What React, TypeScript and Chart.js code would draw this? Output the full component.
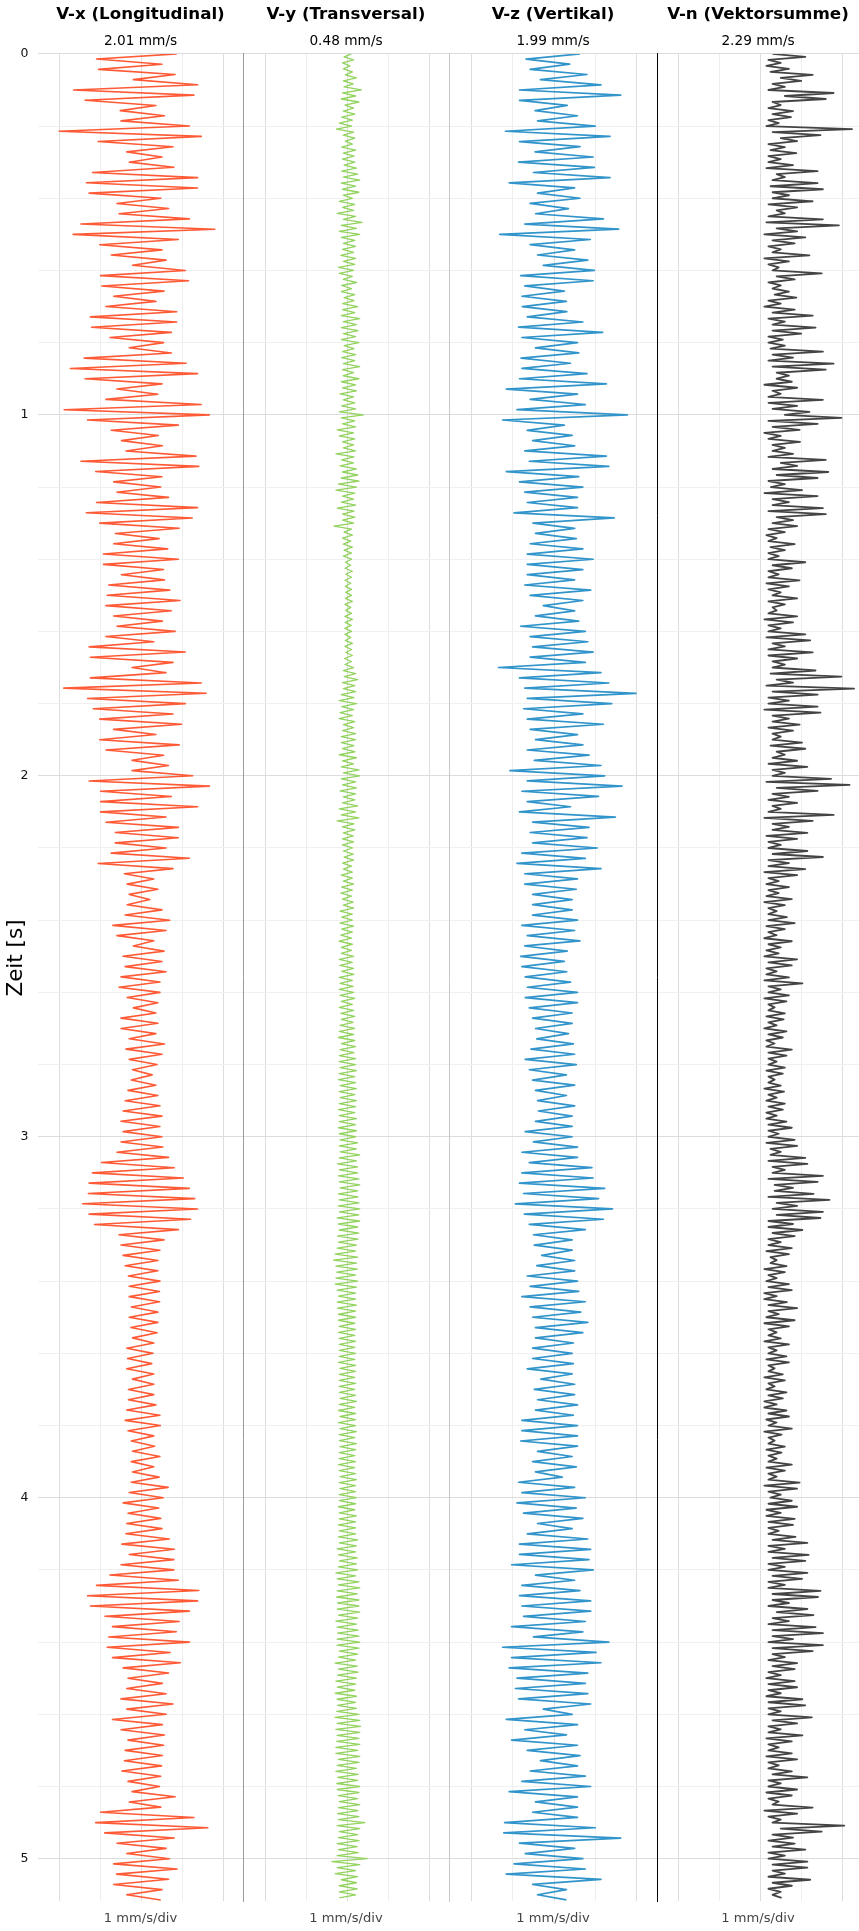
import { useEffect, useRef } from "react";
import { Chart, registerables } from "chart.js";

Chart.register(...registerables);

const FONT = "'DejaVu Sans', 'Noto Sans', sans-serif";

// ---- data ----
const TIME_MAX = 5.118; // seconds shown on the time axis
const TIME_STEP = 0.2; // grid step of the time axis
const Y_AXIS_LABEL = "Zeit [s]";
const SCALE_LABEL = "1 mm/s/div";
const TITLES = ["V-x (Longitudinal)", "V-y (Transversal)", "V-z (Vertikal)", "V-n (Vektorsumme)"];
const PEAKS = ["2.01 mm/s", "0.48 mm/s", "1.99 mm/s", "2.29 mm/s"];
const RATES = [70, 120, 70, 120]; // samples per second of each trace

const VX = [
  .86,-1.1,.5,-1.05,.82,-.2,1.37,
  -1.66,1.28,-1.38,.35,-.52,.56,-.5,
  1.17,-2.01,1.46,-1.06,.77,-.36,.5,
  -.3,.79,-1.2,1.37,-1.35,1.37,-1.28,
  .47,-.6,.66,-.55,1.17,-1.48,1.79,
  -1.67,.9,-1.02,.5,-.74,.6,-.22,
  1.07,-1,1.15,-.97,.55,-.68,.35,
  -.87,.86,-1.25,.86,-1.22,.73,-.77,
  .54,-.3,.73,-1.4,1.09,-1.74,1.37,
  -1.38,.5,-.6,.4,-.87,1.46,-1.89,
  1.66,-1.32,.9,-.74,.41,-.49,.51,
  -.38,1.33,-1.48,1.4,-1.12,.5,-.68,
  .47,-.6,.66,-1.1,1.37,-1.35,1.24,
  -1.02,.92,-.64,.43,-.68,.64,-.93,
  .9,-.93,.54,-.49,.56,-.8,.69,
  -.84,.94,-.87,.73,-.68,.51,-.6,
  .82,-.87,.3,-1.28,1.07,-1.25,.77,
  -.23,.6,-1.25,1.46,-1.9,1.58,-1.32,
  1.07,-1.18,.77,-1.02,.98,-.68,.35,
  -1.02,.92,-.87,.54,-.23,.66,-.23,
  1.25,-1.28,1.66,-1,.73,-1,1.37,
  -1,.6,-.87,.9,-.64,.9,-.64,
  .6,-.74,1.17,-1.06,.77,-.42,.3,
  -.35,.4,-.3,.2,-.35,.5,-.4,
  .69,-.7,.6,-.6,.3,-.2,.55,
  -.45,.5,-.4,.6,-.5,.45,-.55,
  .45,-.35,.4,-.2,.35,-.5,.4,
  -.5,.35,-.3,.56,-.38,.5,-.3,
  .38,-.22,.26,-.25,.35,-.33,.4,
  -.4,.45,-.45,.5,-.5,.45,-.45,
  .5,-.5,.52,-.6,.66,-.98,.8,
  -1.2,1.02,-1.28,1.17,-1.3,1.3,-1.44,
  1.37,-1.28,1.2,-1.15,.9,-.55,.55,
  -.5,.45,-.45,.4,-.4,.4,-.32,
  .45,-.3,.44,-.3,.44,-.25,.4,
  -.3,.4,-.26,.38,-.22,.3,-.36,
  .28,-.34,.25,-.36,.3,-.22,.3,
  -.32,.3,-.32,.35,-.36,.45,-.4,
  .46,-.33,.3,-.25,.32,-.22,.45,
  -.25,.3,-.22,.43,-.25,.65,-.3,
  .53,-.45,.42,-.33,.47,-.36,.5,
  -.38,.68,-.48,.8,-.3,.79,-.5,
  .79,-.77,.9,-1.1,1.4,-1.32,1.37,
  -1.25,1.17,-.89,.92,-.71,.85,-.8,
  1.17,-.84,.7,-.71,.95,-.45,.66,
  -.33,.51,-.36,.6,-.5,.77,-.36,
  .6,-.71,.51,-.5,.56,-.33,.54,
  -.4,.51,-.42,.49,-.48,.47,-.33,
  .44,-.23,.82,-.3,.47,-1,1.28,
  -1.12,1.62,-.9,.8,-.6,.6,-.36,
  .68,-.68,.87,-.61,.66,-.68,.5,
  -.36,.47,
];

const VY = [
  .1,-.08,.15,-.12,.06,-.1,.12,-.05,.22,-.1,.14,-.08,
  .34,-.12,.2,-.15,.28,-.06,.15,-.1,.18,-.14,.12,-.2,
  .1,-.27,.15,-.1,.18,-.05,.12,-.14,.2,-.1,.16,-.12,
  .18,-.08,.22,-.14,.25,-.1,.3,-.15,.2,-.12,.28,-.1,
  .12,-.2,.18,-.12,.15,-.25,.2,-.1,.36,-.15,.22,-.2,
  .3,-.15,.18,-.1,.2,-.12,.15,-.16,.2,-.1,.18,-.22,
  .15,-.2,.12,-.1,.22,-.14,.1,-.15,.18,-.08,.16,-.12,
  .25,-.12,.18,-.15,.3,-.1,.22,-.15,.26,-.1,.2,-.15,
  .28,-.08,.16,-.12,.2,-.14,.18,-.1,.3,-.12,.15,-.1,
  .28,-.15,.2,-.12,.22,-.18,.15,-.1,.18,-.14,.2,-.2,
  .39,-.15,.18,-.12,.2,-.25,.15,-.2,.18,-.12,.15,-.1,
  .2,-.28,.16,-.14,.15,-.18,.22,-.12,.25,-.15,.28,-.22,
  .22,-.28,.18,-.12,.15,-.15,.2,-.25,.16,-.12,.18,-.12,
  .15,-.33,.1,-.08,.12,-.12,.08,-.1,.12,-.08,.1,-.1,
  .1,-.05,.08,-.06,.12,-.04,.1,-.06,.08,-.05,.1,-.04,
  .1,-.05,.12,-.06,.08,-.04,.1,-.06,.12,-.05,.09,-.06,
  .1,-.06,.08,-.05,.12,-.06,.1,-.04,.12,-.07,.1,-.06,
  .15,-.1,.2,-.08,.25,-.12,.18,-.1,.2,-.15,.16,-.2,
  .22,-.14,.15,-.18,.12,-.2,.18,-.1,.15,-.12,.2,-.15,
  .2,-.15,.16,-.12,.18,-.2,.22,-.12,.15,-.15,.28,-.1,
  .3,-.15,.2,-.12,.22,-.18,.2,-.1,.18,-.12,.25,-.2,
  .2,-.15,.28,-.25,.16,-.12,.18,-.1,.14,-.12,.15,-.12,
  .12,-.1,.14,-.08,.15,-.12,.1,-.1,.12,-.15,.12,-.1,
  .15,-.14,.12,-.16,.1,-.12,.14,-.1,.15,-.18,.12,-.14,
  .12,-.18,.15,-.14,.12,-.16,.1,-.2,.12,-.15,.1,-.15,
  .15,-.2,.12,-.18,.15,-.14,.16,-.2,.12,-.18,.14,-.2,
  .15,-.18,.18,-.15,.12,-.2,.15,-.16,.18,-.15,.14,-.18,
  .18,-.2,.15,-.22,.18,-.15,.2,-.18,.16,-.2,.2,-.2,
  .2,-.18,.22,-.2,.18,-.22,.2,-.18,.22,-.2,.18,-.18,
  .22,-.2,.2,-.22,.18,-.2,.22,-.2,.2,-.22,.22,-.2,
  .2,-.18,.25,-.2,.22,-.18,.3,-.2,.22,-.24,.25,-.2,
  .25,-.22,.28,-.2,.3,-.18,.25,-.22,.26,-.2,.28,-.22,
  .3,-.2,.28,-.25,.3,-.22,.25,-.2,.28,-.24,.26,-.22,
  .22,-.25,.2,-.3,.25,-.34,.22,-.28,.24,-.26,.2,-.28,
  .25,-.3,.22,-.25,.2,-.22,.2,-.25,.22,-.24,.2,-.22,
  .2,-.22,.18,-.2,.2,-.22,.18,-.2,.2,-.2,.18,-.2,
  .2,-.2,.18,-.22,.2,-.18,.2,-.2,.18,-.2,.2,-.2,
  .18,-.2,.2,-.18,.22,-.2,.18,-.22,.2,-.18,.2,-.22,
  .2,-.18,.22,-.2,.18,-.2,.22,-.18,.2,-.2,.18,-.2,
  .2,-.22,.18,-.2,.2,-.18,.22,-.2,.2,-.18,.2,-.2,
  .22,-.2,.2,-.22,.18,-.2,.22,-.2,.2,-.22,.2,-.2,
  .2,-.22,.25,-.2,.22,-.25,.2,-.22,.24,-.2,.22,-.22,
  .25,-.28,.2,-.25,.28,-.22,.3,-.25,.24,-.26,.28,-.24,
  .28,-.25,.3,-.22,.25,-.28,.22,-.25,.26,-.24,.28,-.25,
  .3,-.25,.28,-.2,.25,-.22,.2,-.3,.24,-.22,.26,-.24,
  .22,-.28,.2,-.25,.18,-.3,.22,-.25,.2,-.24,.22,-.26,
  .28,-.3,.3,-.25,.32,-.28,.3,-.25,.28,-.26,.3,-.28,
  .25,-.28,.3,-.22,.28,-.25,.22,-.28,.26,-.24,.25,-.26,
  .3,-.25,.28,-.22,.25,-.2,.3,-.22,.26,-.24,.28,-.22,
  .43,-.25,.3,-.2,.25,-.22,.28,-.25,.24,-.22,.26,-.25,
  .48,-.38,.3,-.25,.2,-.3,.25,-.15,.22,-.2,.24,-.2,
  .2,-.2,
];

const VZ = [
  .63,-.68,.38,-.58,.8,-.33,1.14,
  -.84,1.62,-.84,.32,-.46,.57,-.4,
  1,-1.18,1.36,-.84,.63,-.46,.95,
  -.86,.98,-.5,1.36,-1.09,.5,-.4,
  .63,-.58,.35,-.45,1.2,-.71,1.57,
  -1.32,.88,-.58,.5,-.4,.82,-.26,
  .98,-.81,.95,-.71,.25,-.78,.3,
  -.77,.31,-.65,.7,-.86,1.18,-.78,
  .57,-.45,.6,-.8,.4,-.78,.8,
  -.84,1.27,-1.16,.57,-.58,.76,-.9,
  1.78,-1.25,.25,-.65,.44,-.52,.5,
  -.71,1.27,-.6,1.33,-1.16,.6,-.84,
  .7,-.71,.57,-.65,.57,-.97,1.46,
  -.51,.5,-.45,.54,-.58,.7,-.65,
  .95,-.65,.7,-.65,.5,-.71,.89,
  -.58,.7,-.26,.5,-.45,.6,-.81,
  .76,-.58,.82,-.52,.95,-.58,.76,
  -1.35,1.14,-.84,1.33,-.71,1.99,-.65,
  1.4,-.74,.7,-.65,1.2,-.58,.57,
  -.45,.7,-.65,.85,-.48,1.14,-1.07,
  1.23,-.65,1.65,-.78,1.08,-.65,.4,
  -.84,1.49,-.52,.85,-.58,.8,-.52,
  1.05,-.78,.76,-.9,1.14,-.71,.57,
  -.71,.54,-.52,.44,-.52,.44,-.52,
  .57,-.78,.5,-.65,.63,-.71,.32,
  -.81,.25,-.78,.31,-.7,.4,-.65,
  .57,-.7,.57,-.6,.44,-.52,.44,
  -.45,.35,-.42,.47,-.56,.5,-.7,
  .54,-.6,.3,-.52,.5,-.45,.3,
  -.4,.5,-.38,.44,-.45,.44,-.7,
  .44,-.5,.57,-.78,.57,-.6,.92,
  -.78,.95,-.84,1.23,-.74,1.08,-.94,
  1.42,-.72,1.2,-.6,.76,-.5,.44,
  -.48,.44,-.3,.5,-.42,.5,-.65,
  .57,-.58,.6,-.78,.76,-.58,.65,
  -.52,.82,-.45,.7,-.45,.47,-.52,
  .44,-.52,.47,-.65,.44,-.32,.5,
  -.48,.5,-.4,.57,-.45,.47,-.78,
  .57,-.78,.57,-.81,.57,-.4,.44,
  -.52,.54,-.45,.2,-.86,.5,-.78,
  .76,-.9,.54,-.74,.7,-.4,.44,
  -.65,.82,-.84,.89,-.84,.85,-1.03,
  .95,-.45,.5,-.78,.63,-.84,.89,
  -.78,.89,-.74,.76,-1.03,.7,-.5,
  1.33,-1.25,1.02,-1.03,1.14,-1.09,.82,
  -.9,.76,-.94,.82,-.86,.89,-.26,
  .44,-1.16,.57,-.71,.3,-1.03,.57,
  -.65,.63,-.33,.57,-.58,.76,-.78,
  .89,-1.09,.57,-.45,.57,-.52,.57,
  -1.2,1,-1.22,1.62,-.84,.5,-.7,
  .7,-.97,.76,-1.16,1.14,-.52,.3,
  -.4,.3,
];

const VN = [
  .3,1.1,.2,.5,.15,.7,.25,1.28,.5,1,.3,.6,
  .2,1.79,.6,1.6,.3,.5,.2,.8,.3,.75,.2,.45,
  .15,2.24,.3,1.47,.5,.9,.2,.6,.25,.88,.2,.5,
  .2,.8,.15,1.4,.4,.6,.3,1.4,.25,1.53,.3,.7,
  .3,1.28,.2,.9,.4,.6,.2,1.53,.15,1.92,.4,.9,
  .1,1.1,.3,.84,.2,.5,.3,1.2,.1,.7,.2,.45,
  .3,1.5,.4,.84,.2,.5,.3,.7,.35,.88,.2,.5,
  .1,.84,.3,1.28,.2,.6,.3,1.35,.3,1,.2,.55,
  .2,.6,.25,1.53,.3,.8,.2,1.79,.3,1.6,.4,.7,
  .4,.77,.1,.9,.3,.5,.2,1.53,.2,.9,.3,1.2,
  .6,1.98,.2,1.4,.3,.96,.1,.5,.2,.97,.3,.6,
  .3,.8,.2,1.6,.5,.9,.3,1.66,.4,1.4,.2,.6,
  .26,1.02,.1,1.4,.3,.7,.3,1.53,.2,1.6,.4,.8,
  .3,.9,.2,.6,.15,.4,.2,.84,.25,.6,.2,.45,
  .2,1.1,.3,.77,.2,.45,.2,.96,.15,.7,.2,.5,
  .3,.9,.2,.6,.3,.4,.2,.9,.1,.8,.2,.5,
  .2,1.1,.15,1.22,.3,.6,.2,1.28,.2,.9,.3,.6,
  .3,1.35,.25,1.98,.4,.8,.15,2.29,.3,1.4,.2,.7,
  .2,1.4,.1,1.47,.3,.7,.3,.96,.2,.8,.3,.5,
  .3,1.02,.25,1.1,.4,.6,.3,.9,.2,1.15,.3,.6,
  .3,1.73,.15,2.18,.4,1.4,.3,.7,.2,.9,.3,.5,
  .2,1.79,.1,1.28,.3,.7,.3,1.15,.15,.9,.2,.5,
  .2,1.15,.3,1.53,.2,.7,.2,1.1,.1,.9,.2,.45,
  .15,.7,.2,.45,.15,.77,.1,.6,.2,.4,.2,.65,
  .2,.84,.15,.6,.2,.4,.1,.77,.2,.5,.15,.45,
  .1,.9,.2,.77,.15,.4,.15,.7,.1,1.03,.2,.5,
  .2,.7,.1,.64,.2,.35,.2,.6,.15,.57,.2,.4,
  .1,.64,.2,.55,.15,.35,.15,.77,.2,.64,.2,.4,
  .2,.6,.15,.55,.2,.35,.2,.5,.1,.58,.2,.4,
  .15,.6,.2,.55,.15,.4,.15,.64,.2,.77,.2,.45,
  .2,.84,.15,.9,.25,.5,.25,1.1,.2,1.15,.3,.6,
  .3,1.53,.2,1.4,.35,.8,.35,1.3,.2,1.69,.4,.9,
  .3,1.53,.4,1.47,.2,.8,.2,1.03,.3,.84,.2,.5,
  .2,.77,.15,.7,.25,.4,.25,.64,.1,.6,.2,.4,
  .15,.7,.2,.77,.1,.4,.1,.65,.2,.9,.2,.45,
  .15,.84,.1,.7,.2,.4,.2,.5,.1,.7,.2,.4,
  .2,.64,.15,.7,.2,.35,.2,.55,.1,.6,.2,.35,
  .15,.64,.2,.55,.1,.4,.1,.64,.2,.7,.15,.4,
  .2,.77,.1,.52,.2,.35,.2,.6,.15,.52,.2,.4,
  .2,.77,.15,.6,.2,.4,.2,.96,.1,.9,.2,.5,
  .25,.77,.2,.9,.15,.5,.15,.84,.2,.8,.2,.45,
  .2,.86,.3,1.15,.2,.6,.2,1.18,.3,1.1,.2,.6,
  .2,1.15,.3,1.02,.2,.6,.2,1.47,.3,1.41,.3,.7,
  .2,1.15,.4,1.3,.3,.7,.2,1.35,.3,1.53,.3,.8,
  .2,1.53,.3,1.28,.3,.6,.2,.9,.3,.84,.2,.5,
  .15,.84,.2,.9,.2,.5,.15,1.03,.2,1.1,.2,.5,
  .2,1.26,.3,.9,.2,.5,.2,1.03,.15,.77,.2,.45,
  .2,.77,.15,.9,.2,.45,.2,.77,.3,1.15,.2,.5,
  .2,.9,.15,.77,.2,.45,.3,1.28,.1,.9,.2,.5,
  .3,2.05,.5,1.5,.3,.8,.2,.84,.3,1.1,.2,.6,
  .2,1.15,.3,1.15,.3,.6,.2,1.22,.3,.77,.2,.5,
  .3,.52,
];

// ---- layout & style ----
const FIG_HEIGHT = 1931;
const PANEL_LAYOUT = [
  { left: 0, width: 243, axisWidth: 38, xMin: -2.53, xMax: 2.48, border: "" },
  { left: 243, width: 206, axisWidth: 0, xMin: -2.55, xMax: 2.48, border: "#9a9a9a" },
  { left: 449, width: 208, axisWidth: 0, xMin: -2.55, xMax: 2.5, border: "#c8c8c8" },
  { left: 657, width: 202, axisWidth: 0, xMin: -2.52, xMax: 2.41, border: "#000000" },
];
const COLORS = ["#ff5a36", "#93d35f", "#3194ca", "#444444"];
const LINE_WIDTHS = [1.6, 1.3, 1.7, 1.8];

const isWhole = (v: number) => Math.abs(v - Math.round(v)) < 1e-6;

const yLabelPlugin = {
  id: "yAxisLabel",
  afterDraw(chart: any) {
    const { ctx } = chart;
    ctx.save();
    ctx.translate(16.5, 958);
    ctx.rotate(-Math.PI / 2);
    ctx.font = `21.5px ${FONT}`;
    ctx.fillStyle = "#000";
    ctx.textAlign = "center";
    ctx.textBaseline = "middle";
    ctx.fillText(Y_AXIS_LABEL, 0, 0);
    ctx.restore();
  },
};

export default function App() {
  const refs = useRef<(HTMLCanvasElement | null)[]>([]);

  useEffect(() => {
    const series = [VX, VY, VZ, VN];
    const charts: Chart[] = [];
    PANEL_LAYOUT.forEach((p, i) => {
      const canvas = refs.current[i];
      if (!canvas) return;
      const isFirst = i === 0;
      const points = series[i].map((v, k) => ({ x: v, y: k / RATES[i] }));
      const chart = new Chart(canvas, {
        type: "scatter",
        data: {
          datasets: [
            {
              data: points,
              showLine: true,
              borderColor: COLORS[i],
              backgroundColor: COLORS[i],
              borderWidth: LINE_WIDTHS[i],
              pointRadius: 0,
              pointHoverRadius: 0,
              tension: 0,
              fill: false,
              borderJoinStyle: "round",
            } as any,
          ],
        },
        options: {
          responsive: false,
          animation: false,
          events: [],
          layout: { padding: 0 },
          plugins: {
            legend: { display: false },
            tooltip: { enabled: false },
            title: {
              display: true,
              text: TITLES[i],
              color: "#000",
              font: { family: FONT, size: 16.7, weight: "bold", lineHeight: 1.2 },
              padding: { top: 5, bottom: 0 },
              fullSize: false,
            },
            subtitle: {
              display: true,
              text: PEAKS[i],
              color: "#000",
              font: { family: FONT, size: 13.7, lineHeight: 1.2 },
              padding: { top: 8.6, bottom: 3.8 },
              fullSize: false,
            },
          },
          scales: {
            x: {
              type: "linear",
              position: "bottom",
              min: p.xMin,
              max: p.xMax,
              border: { display: false },
              grid: {
                drawTicks: false,
                lineWidth: 1,
                color: (c: any) => (Math.round(c.tick.value) % 2 === 0 ? "#dddddd" : "#eeeeee"),
              },
              ticks: { display: false, stepSize: 1, includeBounds: false },
              title: {
                display: true,
                text: SCALE_LABEL,
                color: "#444",
                font: { family: FONT, size: 13.1, lineHeight: 1.2 },
                padding: { top: 9, bottom: 5 },
              },
            },
            y: {
              type: "linear",
              position: "left",
              reverse: true,
              min: 0,
              max: TIME_MAX,
              afterFit: (s: any) => {
                s.width = p.axisWidth;
              },
              border: { display: !!p.border, color: p.border || "#000", width: 1 },
              grid: {
                drawTicks: false,
                lineWidth: 1,
                color: (c: any) => (isWhole(c.tick.value) ? "#dcdcdc" : "#f0f0f0"),
              },
              ticks: {
                display: isFirst,
                stepSize: TIME_STEP,
                autoSkip: false,
                includeBounds: false,
                padding: 9.5,
                color: "#111",
                font: { family: FONT, size: 12.5 },
                callback: (v: any) => (isWhole(Number(v)) ? String(Math.round(Number(v))) : ""),
              },
            },
          },
        },
        plugins: isFirst ? [yLabelPlugin] : [],
      });
      charts.push(chart);
    });
    return () => charts.forEach((c) => c.destroy());
  }, []);

  return (
    <div style={{ position: "absolute", left: 0, top: 0, width: 859, height: FIG_HEIGHT, background: "#fff" }}>
      {PANEL_LAYOUT.map((p, i) => (
        <canvas
          key={i}
          ref={(el) => {
            refs.current[i] = el;
          }}
          width={p.width}
          height={FIG_HEIGHT}
          style={{ position: "absolute", left: p.left, top: 0, width: p.width, height: FIG_HEIGHT }}
        />
      ))}
    </div>
  );
}
